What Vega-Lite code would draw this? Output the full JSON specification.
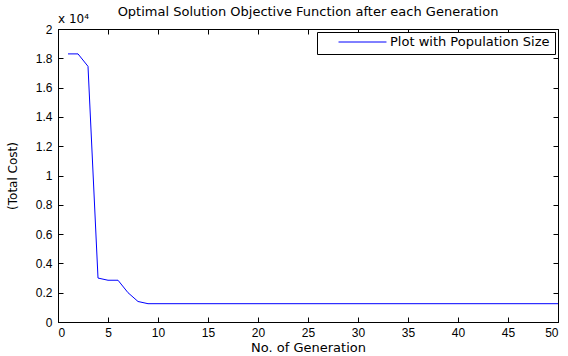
{
  "$schema": "https://vega.github.io/schema/vega-lite/v6.json",
  "width": 500,
  "height": 293,
  "autosize": {"type": "none"},
  "padding": {"left": 58, "top": 29, "right": 10, "bottom": 34},
  "background": "white",
  "config": {
    "font": "DejaVu Sans",
    "view": {"stroke": "black", "strokeWidth": 1},
    "axis": {"grid": false, "domainColor": "black", "tickColor": "black", "labelColor": "black", "titleColor": "black", "labelFont": "Liberation Sans", "titleFont": "DejaVu Sans", "labelFontSize": 12, "titleFontSize": 13, "titleFontWeight": "normal", "tickSize": -5}
  },
  "title": {"text": "Optimal Solution Objective Function after each Generation", "fontSize": 13, "fontWeight": "normal", "font": "DejaVu Sans", "color": "black", "offset": -6, "anchor": "middle"},
  "data": {"values": [
    {"gen": 1, "cost": 18300, "series": "Plot with Population Size"},
    {"gen": 2, "cost": 18300, "series": "Plot with Population Size"},
    {"gen": 3, "cost": 17450, "series": "Plot with Population Size"},
    {"gen": 4, "cost": 3000, "series": "Plot with Population Size"},
    {"gen": 5, "cost": 2850, "series": "Plot with Population Size"},
    {"gen": 6, "cost": 2850, "series": "Plot with Population Size"},
    {"gen": 7, "cost": 2000, "series": "Plot with Population Size"},
    {"gen": 8, "cost": 1400, "series": "Plot with Population Size"},
    {"gen": 9, "cost": 1250, "series": "Plot with Population Size"},
    {"gen": 10, "cost": 1250, "series": "Plot with Population Size"},
    {"gen": 15, "cost": 1250, "series": "Plot with Population Size"},
    {"gen": 20, "cost": 1250, "series": "Plot with Population Size"},
    {"gen": 25, "cost": 1250, "series": "Plot with Population Size"},
    {"gen": 30, "cost": 1250, "series": "Plot with Population Size"},
    {"gen": 35, "cost": 1250, "series": "Plot with Population Size"},
    {"gen": 40, "cost": 1250, "series": "Plot with Population Size"},
    {"gen": 45, "cost": 1250, "series": "Plot with Population Size"},
    {"gen": 50, "cost": 1250, "series": "Plot with Population Size"}
  ]},
  "layer": [
    {
      "mark": {"type": "line", "strokeWidth": 1, "clip": true},
      "encoding": {
        "x": {"field": "gen", "type": "quantitative", "scale": {"domain": [0, 50], "nice": false}, "title": "No. of Generation",
          "axis": {"values": [0,5,10,15,20,25,30,35,40,45,50], "labelPadding": 10, "titlePadding": 3}},
        "y": {"field": "cost", "type": "quantitative", "scale": {"domain": [0, 20000], "nice": false}, "title": "(Total Cost)",
          "axis": {"values": [0,2000,4000,6000,8000,10000,12000,14000,16000,18000,20000], "labelExpr": "datum.value/10000", "labelPadding": 11, "titlePadding": 16, "titleFontSize": 12}},
        "color": {"field": "series", "type": "nominal", "scale": {"range": ["#0000ff"]},
          "legend": {"title": null, "orient": "top-right", "offset": 3, "strokeColor": "black", "fillColor": "white", "padding": 5, "symbolOffset": 16, "symbolType": "stroke", "symbolSize": 2300, "symbolStrokeWidth": 1, "clipHeight": 10, "labelFontSize": 13, "labelColor": "black", "labelFont": "DejaVu Sans", "labelOffset": 3, "cornerRadius": 0}}
      }
    },
    {
      "data": {"values": [{}]},
      "mark": {"type": "text", "align": "left", "baseline": "bottom", "dy": -3, "fontSize": 12, "font": "DejaVu Sans", "color": "black"},
      "encoding": {
        "x": {"datum": 0, "axis": null},
        "y": {"datum": 20000, "axis": null},
        "text": {"value": "x 10\u2074"}
      }
    },
    {
      "mark": {"type": "rule", "color": "black"},
      "encoding": {
        "x": {"field": "gen", "type": "quantitative", "axis": {"orient": "top", "labels": false, "title": null, "domain": false, "minExtent": 0, "maxExtent": 0, "values": [0,5,10,15,20,25,30,35,40,45,50]}},
        "opacity": {"value": 0}
      }
    },
    {
      "mark": {"type": "rule", "color": "black"},
      "encoding": {
        "y": {"field": "cost", "type": "quantitative", "axis": {"orient": "right", "labels": false, "title": null, "domain": false, "minExtent": 0, "maxExtent": 0, "values": [0,2000,4000,6000,8000,10000,12000,14000,16000,18000,20000]}},
        "opacity": {"value": 0}
      }
    }
  ],
  "resolve": {"axis": {"x": "independent", "y": "independent"}}
}
